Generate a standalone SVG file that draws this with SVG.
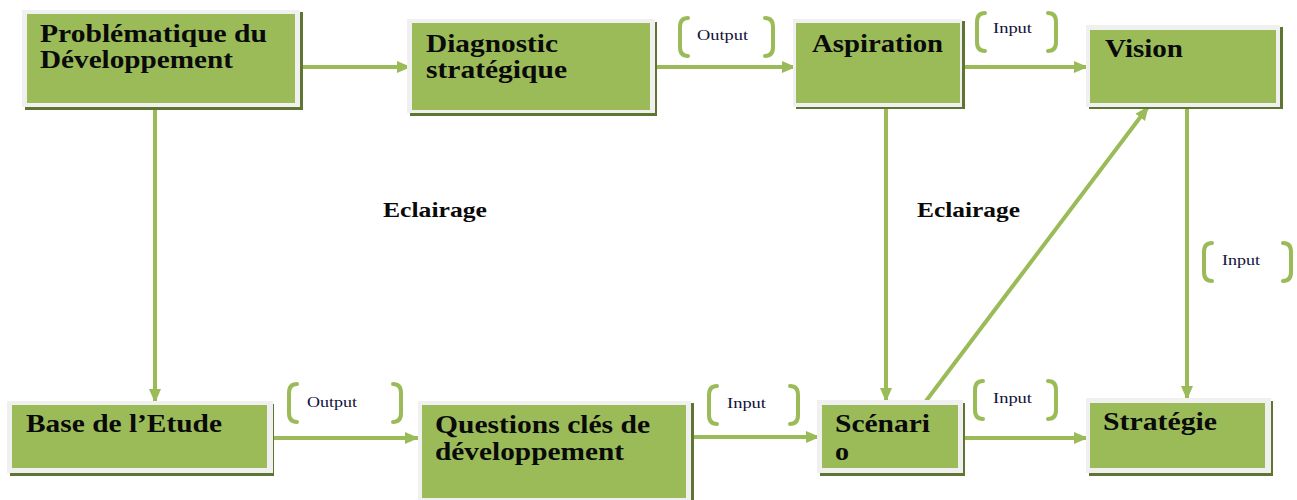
<svg xmlns="http://www.w3.org/2000/svg" width="1297" height="500" viewBox="0 0 1297 500">
<style>
.shadow{fill:#5f7532}
.frame{fill:#f0f0f0}
.fill{fill:#9bbb59}
.t{font-family:"Liberation Serif","Times New Roman",serif;font-weight:bold;font-size:25px;fill:#0a0a0a}
.e{font-family:"Liberation Serif","Times New Roman",serif;font-weight:bold;font-size:21px;fill:#0a0a0a}
.s{font-family:"Liberation Serif","Times New Roman",serif;font-size:15px;fill:#10103a}
.c{stroke:#9bbb59;stroke-width:4;fill:none}
.b{stroke:#9bbb59;stroke-width:4;fill:none;stroke-linecap:round}
</style>
<defs>
<marker id="ah" markerUnits="userSpaceOnUse" markerWidth="14" markerHeight="14" viewBox="0 0 14 14" refX="13" refY="7" orient="auto">
<path d="M0,1 L14,7 L0,13 z" fill="#9bbb59"/>
</marker>
</defs>
<rect width="1297" height="500" fill="#ffffff"/>

<g id="connectors">
<line class="c" x1="302" y1="67" x2="410" y2="67" marker-end="url(#ah)"/>
<line class="c" x1="656" y1="67" x2="795" y2="67" marker-end="url(#ah)"/>
<line class="c" x1="964" y1="67" x2="1087" y2="67" marker-end="url(#ah)"/>
<line class="c" x1="155" y1="110" x2="155" y2="402" marker-end="url(#ah)"/>
<line class="c" x1="273" y1="438" x2="418" y2="438" marker-end="url(#ah)"/>
<line class="c" x1="694" y1="437" x2="819" y2="437" marker-end="url(#ah)"/>
<line class="c" x1="964" y1="438" x2="1087" y2="438" marker-end="url(#ah)"/>
<line class="c" x1="886" y1="109" x2="886" y2="401" marker-end="url(#ah)"/>
<line class="c" x1="1187" y1="109" x2="1187" y2="399" marker-end="url(#ah)"/>
<line class="c" x1="926" y1="401" x2="1148" y2="107" marker-end="url(#ah)"/>
</g>

<g id="node-problematique">
<rect class="shadow" x="25" y="12" width="278" height="98"/>
<rect class="frame" x="22" y="10" width="278" height="97"/>
<rect class="fill" x="27" y="14" width="268" height="89"/>
<text class="t" x="40" y="42" textLength="227" lengthAdjust="spacingAndGlyphs">Problématique du</text>
<text class="t" x="40" y="68" textLength="193" lengthAdjust="spacingAndGlyphs">Développement</text>
</g>

<g id="node-diagnostic">
<rect class="shadow" x="410" y="22" width="247" height="94"/>
<rect class="frame" x="407" y="19" width="248" height="94"/>
<rect class="fill" x="412" y="23" width="238" height="87"/>
<text class="t" x="426" y="52" textLength="132" lengthAdjust="spacingAndGlyphs">Diagnostic</text>
<text class="t" x="426" y="78" textLength="141" lengthAdjust="spacingAndGlyphs">stratégique</text>
</g>

<g id="node-aspiration">
<rect class="shadow" x="796" y="21" width="169" height="88"/>
<rect class="frame" x="793" y="19" width="169" height="88"/>
<rect class="fill" x="796" y="23" width="164" height="80"/>
<text class="t" x="812" y="52" textLength="131" lengthAdjust="spacingAndGlyphs">Aspiration</text>
</g>

<g id="node-vision">
<rect class="shadow" x="1089" y="27" width="194" height="82"/>
<rect class="frame" x="1086" y="25" width="194" height="82"/>
<rect class="fill" x="1090" y="30" width="186" height="73"/>
<text class="t" x="1105" y="57" textLength="78" lengthAdjust="spacingAndGlyphs">Vision</text>
</g>

<g id="node-base">
<rect class="shadow" x="10" y="404" width="264" height="72"/>
<rect class="frame" x="7" y="401" width="266" height="72"/>
<rect class="fill" x="12" y="405" width="255" height="63"/>
<text class="t" x="26" y="432" textLength="196" lengthAdjust="spacingAndGlyphs">Base de l’Etude</text>
</g>

<g id="node-questions">
<rect class="shadow" x="421" y="403" width="273" height="100"/>
<rect class="frame" x="418" y="401" width="273" height="100"/>
<rect class="fill" x="422" y="405" width="264" height="93"/>
<text class="t" x="435" y="433" textLength="215" lengthAdjust="spacingAndGlyphs">Questions clés de</text>
<text class="t" x="435" y="460" textLength="189" lengthAdjust="spacingAndGlyphs">développement</text>
</g>

<g id="node-scenario">
<rect class="shadow" x="820" y="403" width="145" height="73"/>
<rect class="frame" x="817" y="400" width="146" height="73"/>
<rect class="fill" x="822" y="405" width="136" height="63"/>
<text class="t" x="835" y="432" textLength="95" lengthAdjust="spacingAndGlyphs">Scénari</text>
<text class="t" x="835" y="460" textLength="14" lengthAdjust="spacingAndGlyphs">o</text>
</g>

<g id="node-strategie">
<rect class="shadow" x="1089" y="401" width="184" height="75"/>
<rect class="frame" x="1086" y="398" width="185" height="75"/>
<rect class="fill" x="1090" y="403" width="175" height="65"/>
<text class="t" x="1103" y="430" textLength="114" lengthAdjust="spacingAndGlyphs">Stratégie</text>
</g>

<g id="labels">
<text class="e" x="383" y="217" textLength="104" lengthAdjust="spacingAndGlyphs">Eclairage</text>
<text class="e" x="917" y="217" textLength="103" lengthAdjust="spacingAndGlyphs">Eclairage</text>

<g id="label-output-top">
<path class="b" d="M688,18 Q680,18 680,27 L680,47 Q680,56 688,56"/>
<path class="b" d="M765,18 Q773,18 773,27 L773,47 Q773,56 765,56"/>
<text class="s" x="697" y="40" textLength="51" lengthAdjust="spacingAndGlyphs">Output</text>
</g>
<g id="label-input-top">
<path class="b" d="M985,13 Q977,13 977,22 L977,42 Q977,51 985,51"/>
<path class="b" d="M1048,13 Q1056,13 1056,22 L1056,42 Q1056,51 1048,51"/>
<text class="s" x="993" y="33" textLength="39" lengthAdjust="spacingAndGlyphs">Input</text>
</g>
<g id="label-input-right">
<path class="b" d="M1212,243 Q1204,243 1204,252 L1204,272 Q1204,281 1212,281"/>
<path class="b" d="M1283,243 Q1291,243 1291,252 L1291,272 Q1291,281 1283,281"/>
<text class="s" x="1222" y="265" textLength="38" lengthAdjust="spacingAndGlyphs">Input</text>
</g>
<g id="label-output-bottom">
<path class="b" d="M297,384 Q289,384 289,393 L289,413 Q289,422 297,422"/>
<path class="b" d="M393,384 Q401,384 401,393 L401,413 Q401,422 393,422"/>
<text class="s" x="307" y="407" textLength="50" lengthAdjust="spacingAndGlyphs">Output</text>
</g>
<g id="label-input-bottom1">
<path class="b" d="M717,386 Q709,386 709,395 L709,415 Q709,424 717,424"/>
<path class="b" d="M790,386 Q798,386 798,395 L798,415 Q798,424 790,424"/>
<text class="s" x="727" y="408" textLength="39" lengthAdjust="spacingAndGlyphs">Input</text>
</g>
<g id="label-input-bottom2">
<path class="b" d="M983,381 Q975,381 975,390 L975,410 Q975,419 983,419"/>
<path class="b" d="M1048,381 Q1056,381 1056,390 L1056,410 Q1056,419 1048,419"/>
<text class="s" x="993" y="403" textLength="39" lengthAdjust="spacingAndGlyphs">Input</text>
</g>
</g>
</svg>
